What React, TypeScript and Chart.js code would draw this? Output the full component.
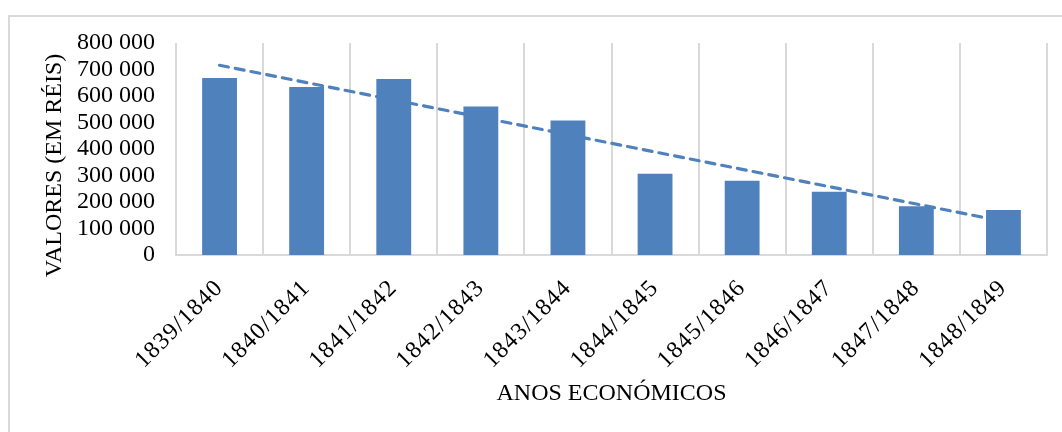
import { useEffect, useRef } from "react";
import { Chart, registerables } from "chart.js";

Chart.register(...registerables);

// Economic years on the category axis
const categories = [
  "1839/1840",
  "1840/1841",
  "1841/1842",
  "1842/1843",
  "1843/1844",
  "1844/1845",
  "1845/1846",
  "1846/1847",
  "1847/1848",
  "1848/1849",
];

// Yearly values, in réis
const valores = [668000, 634000, 664000, 560000, 508000, 307000, 280000, 239000, 184000, 170000];

// Value axis range and step
const Y_MIN = 0;
const Y_MAX = 800000;
const Y_STEP = 100000;

const xTitle = "ANOS ECONÓMICOS";
const yTitle = "VALORES (EM RÉIS)";

const BLUE = "#4F81BD";
const GRID = "#D9D9D9";
const FONT_FAMILY = "'Liberation Serif', 'Times New Roman', serif";

// Least-squares linear trend evaluated at every category index
function linearTrend(values: number[]): number[] {
  const n = values.length;
  const xMean = (n - 1) / 2;
  const yMean = values.reduce((a, b) => a + b, 0) / n;
  let num = 0;
  let den = 0;
  values.forEach((v, i) => {
    num += (i - xMean) * (v - yMean);
    den += (i - xMean) * (i - xMean);
  });
  const slope = num / den;
  const intercept = yMean - slope * xMean;
  return values.map((_, i) => intercept + slope * i);
}

// Thousands separated by a space: 800 000
function formatReis(v: number): string {
  return String(v).replace(/\B(?=(\d{3})+(?!\d))/g, " ");
}

// Rotated value-axis title, drawn a little below the plot's middle
const yTitlePlugin = {
  id: "yTitleText",
  afterDraw(chart: any) {
    const { ctx, chartArea } = chart;
    ctx.save();
    ctx.font = `24px ${FONT_FAMILY}`;
    ctx.fillStyle = "#000";
    ctx.textAlign = "center";
    ctx.textBaseline = "middle";
    ctx.translate(chartArea.left - 121, (chartArea.top + chartArea.bottom) / 2 + 16.5);
    ctx.rotate(-Math.PI / 2);
    ctx.fillText(yTitle, 0, 0);
    ctx.restore();
  },
};

// Slightly spaced-out digits on the slanted year labels
const spacedYearLabels = {
  id: "spacedYearLabels",
  beforeDraw(chart: any) {
    const scale = chart.scales.x;
    if (!scale || scale._spacedLabels) return;
    const original = scale.drawLabels.bind(scale);
    scale.drawLabels = (area: any) => {
      const ctx = scale.ctx;
      ctx.save();
      (ctx as any).letterSpacing = "1.2px";
      original(area);
      ctx.restore();
    };
    scale._spacedLabels = true;
  },
};

export default function App() {
  const canvasRef = useRef<HTMLCanvasElement | null>(null);

  useEffect(() => {
    if (!canvasRef.current) return;
    const chart = new Chart(canvasRef.current, {
      type: "bar",
      data: {
        labels: categories,
        datasets: [
          {
            type: "bar",
            label: "Valores",
            data: valores,
            backgroundColor: BLUE,
            borderWidth: 0,
            categoryPercentage: 0.4,
            barPercentage: 1,
            order: 1,
          },
          {
            type: "line",
            label: "Tendência linear",
            data: linearTrend(valores),
            borderColor: BLUE,
            borderWidth: 3.2,
            borderDash: [9, 7],
            borderCapStyle: "round",
            pointRadius: 0,
            fill: false,
            tension: 0,
            order: 2,
          },
        ] as any,
      },
      options: {
        responsive: false,
        animation: false,
        devicePixelRatio: 1,
        layout: { padding: { top: 26, right: 15, bottom: 0, left: 0 } },
        plugins: {
          legend: { display: false },
          tooltip: { enabled: false },
        },
        scales: {
          x: {
            grid: {
              display: true,
              offset: true,
              color: GRID,
              lineWidth: 2,
              drawTicks: false,
            },
            border: { display: true, color: GRID, width: 2 },
            ticks: {
              autoSkip: false,
              maxRotation: 45,
              minRotation: 45,
              padding: 19,
              color: "#000",
              font: { family: FONT_FAMILY, size: 24 },
            },
            title: {
              display: true,
              text: xTitle,
              color: "#000",
              font: { family: FONT_FAMILY, size: 24 },
              padding: { top: 0, bottom: 24 },
            },
            afterFit(scale: any) {
              scale.height = 177;
            },
          },
          y: {
            min: Y_MIN,
            max: Y_MAX,
            grid: { display: false, drawTicks: false },
            border: { display: false },
            ticks: {
              stepSize: Y_STEP,
              autoSkip: false,
              padding: 21,
              color: "#000",
              font: { family: FONT_FAMILY, size: 24 },
              callback: (v: any) => formatReis(Number(v)),
            },
            afterFit(scale: any) {
              scale.width = 166;
              scale.paddingTop = 0;
              scale.paddingBottom = 0;
            },
          },
        },
      },
      plugins: [yTitlePlugin, spacedYearLabels],
    });
    return () => chart.destroy();
  }, []);

  return (
    <div
      style={{
        position: "fixed",
        left: 8,
        top: 15,
        width: 1060,
        height: 430,
        borderTop: `2px solid ${GRID}`,
        borderLeft: `2px solid ${GRID}`,
        background: "#fff",
      }}
    >
      <canvas ref={canvasRef} width={1052} height={415} style={{ display: "block" }} />
    </div>
  );
}
